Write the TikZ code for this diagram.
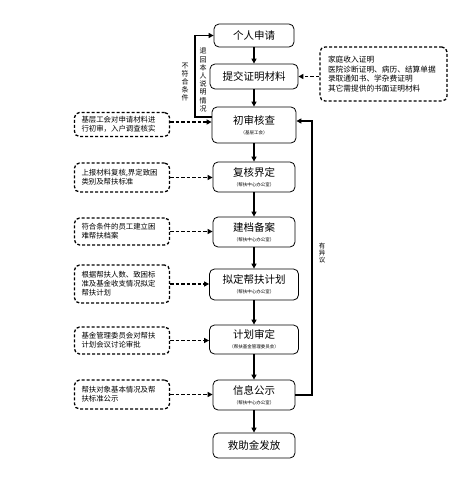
\documentclass[tikz,border=0pt]{standalone}
\usepackage{fontspec}
\setmainfont{Noto Sans CJK SC}
\usetikzlibrary{arrows.meta}
\begin{document}
\begin{tikzpicture}[x=1pt,y=-1pt,
 mainbox/.style={draw, rounded corners=5pt, line width=0.8pt, inner sep=0pt, align=center, font=\fontsize{10.5}{12}\selectfont},
 sidebox/.style={draw, dash pattern=on 3pt off 2pt, line width=1.3pt, rounded corners=5pt, inner xsep=7pt, inner ysep=0pt, align=left, font=\fontsize{7.4}{9}\selectfont},
 flow/.style={line width=1.6pt, -{Triangle[length=5pt,width=5pt]}},
 feed/.style={line width=1.4pt, dash pattern=on 3.5pt off 2pt, -{Triangle[length=5pt,width=5pt]}},
 loopline/.style={line width=1.6pt, -{Triangle[length=5pt,width=5pt]}},
 vlabel/.style={align=center, inner sep=0pt, font=\fontsize{7}{8.2}\selectfont},
 subl/.style={font=\fontsize{4.5}{5}\selectfont}]
\useasboundingbox (0,0) rectangle (473,479);

% main boxes
\node[mainbox, minimum width=80pt, minimum height=23pt] (a1) at (254,35.5) {个人申请};
\node[mainbox, minimum width=88pt, minimum height=25pt] (a2) at (254,76.5) {提交证明材料};
\node[mainbox, minimum width=84pt, minimum height=36pt] (a3) at (254,125) {初审核查\\[-2pt]{\fontsize{4.5}{5}\selectfont （基层工会）}};
\node[mainbox, minimum width=82pt, minimum height=30pt] (a4) at (254,177) {复核界定\\[-2pt]{\fontsize{4.5}{5}\selectfont （帮扶中心办公室）}};
\node[mainbox, minimum width=82pt, minimum height=30pt] (a5) at (254,232) {建档备案\\[-2pt]{\fontsize{4.5}{5}\selectfont （帮扶中心办公室）}};
\node[mainbox, minimum width=89pt, minimum height=31pt] (a6) at (254,284.5) {拟定帮扶计划\\[-2pt]{\fontsize{4.5}{5}\selectfont （帮扶中心办公室）}};
\node[mainbox, minimum width=89pt, minimum height=29pt] (a7) at (254,339.5) {计划审定\\[-2pt]{\fontsize{4.5}{5}\selectfont （帮扶基金管理委员会）}};
\node[mainbox, minimum width=82pt, minimum height=30pt] (a8) at (254,395) {信息公示\\[-2pt]{\fontsize{4.5}{5}\selectfont （帮扶中心办公室）}};
\node[mainbox, minimum width=82pt, minimum height=25pt] (a9) at (254,445.5) {救助金发放};

% side boxes
\node[sidebox, text width=81pt, minimum height=24pt] (b1) at (122,124.5) {基层工会对申请材料进\\行初审，入户调查核实};
\node[sidebox, text width=81pt, minimum height=29pt] (b2) at (122,177.5) {上报材料复核,界定致困\\类别及帮扶标准};
\node[sidebox, text width=81pt, minimum height=27pt] (b3) at (122,231.5) {符合条件的员工建立困\\难帮扶档案};
\node[sidebox, text width=81pt, minimum height=38pt] (b4) at (122,284) {根据帮扶人数、致困标\\准及基金收支情况拟定\\帮扶计划};
\node[sidebox, text width=81pt, minimum height=27pt] (b5) at (122,340.5) {基金管理委员会对帮扶\\计划会议讨论审批};
\node[sidebox, text width=81pt, minimum height=29pt] (b6) at (122,394.5) {帮扶对象基本情况及帮\\扶标准公示};
\node[sidebox, inner xsep=8pt, text width=111pt, minimum height=54pt, font=\fontsize{7.7}{9.5}\selectfont] (c) at (383.5,74) {家庭收入证明\\医院诊断证明、病历、结算单据\\录取通知书、学杂费证明\\其它需提供的书面证明材料};

% main flow
\draw[flow] (a1) -- (a2);
\draw[flow] (a2) -- (a3);
\draw[flow] (a3) -- (a4);
\draw[flow] (a4) -- (a5);
\draw[flow] (a5) -- (a6);
\draw[flow] (a6) -- (a7);
\draw[flow] (a7) -- (a8);
\draw[flow] (a8) -- (a9);

% dashed feeds
\draw[feed] (b1.east |- 0,122) -- (a3.west |- 0,122);
\draw[feed] (b2.east) -- (b2.east -| a4.west);
\draw[feed] (b3.east) -- (b3.east -| a5.west);
\draw[feed] (b4.east) -- (b4.east -| a6.west);
\draw[feed] (b5.east) -- (b5.east -| a7.west);
\draw[feed] (b6.east) -- (b6.east -| a8.west);
\draw[feed] (c.west |- a2.east) -- (a2.east);

% loops
\coordinate (l1) at (195,117);
\coordinate (l2) at (195,35.5);
\draw[loopline] (a3.west |- l1) -- (l1) -- (l2) -- (a1.west);
\coordinate (r1) at (312,395);
\coordinate (r2) at (312,121);
\draw[loopline] (a8.east) -- (r1) -- (r2) -- (a3.east |- r2);

\node[vlabel] (t1) at (185,82) {不\\符\\合\\条\\件};
\node[vlabel] (t2) at (203,80) {退\\回\\本\\人\\说\\明\\情\\况};
\node[vlabel, font=\fontsize{6.5}{7}\selectfont] (t3) at (322,253) {有\\异\\议};
\end{tikzpicture}
\end{document}
